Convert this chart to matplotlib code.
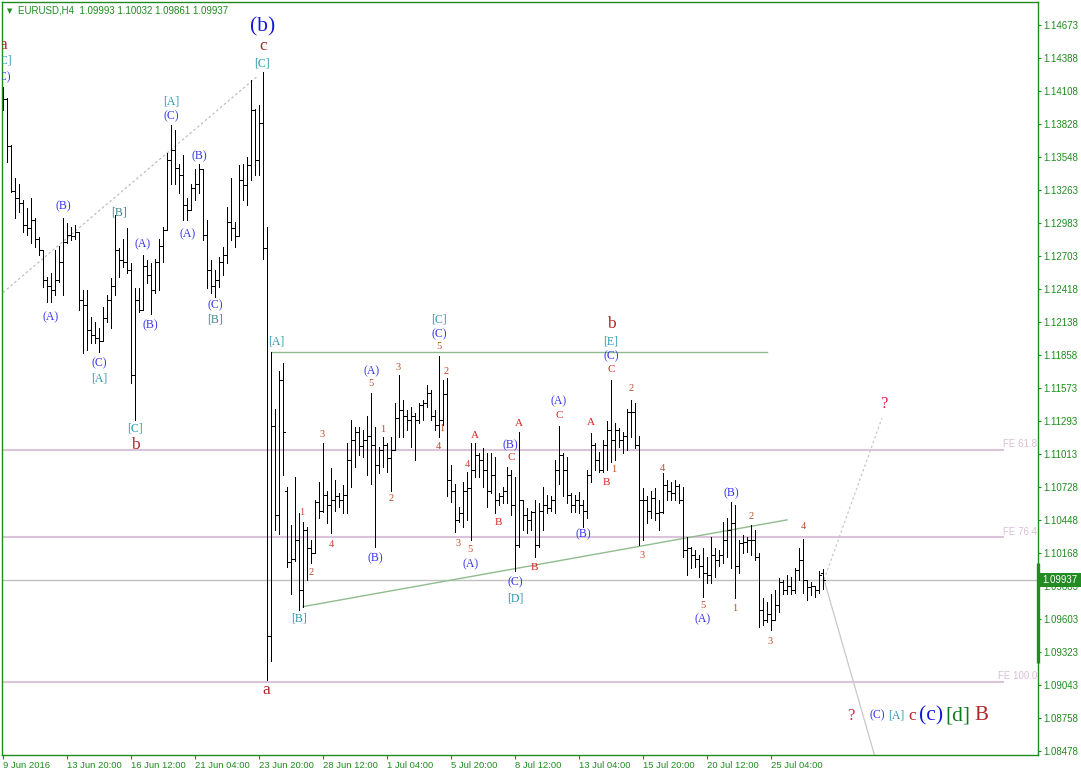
import numpy as np
import matplotlib
matplotlib.use('Agg')
import matplotlib.pyplot as plt
from matplotlib.patches import Rectangle
import matplotlib.transforms as mtransforms

plt.rcParams['font.family'] = ['Liberation Sans', 'DejaVu Sans']

# EURUSD H4 bars, 9 Jun - 27 Jul 2016
bar_open = [
    1.1412, 1.1404, 1.1364, 1.1326, 1.1320, 1.1315, 1.1297, 1.1294, 1.1301, 1.1285,
    1.1275, 1.1250, 1.1245, 1.1241, 1.1250, 1.1265, 1.1282, 1.1288, 1.1287, 1.1291,
    1.1233, 1.1228, 1.1207, 1.1203, 1.1200, 1.1198, 1.1217, 1.1233, 1.1245, 1.1275,
    1.1267, 1.1265, 1.1258, 1.1169, 1.1233, 1.1224, 1.1262, 1.1254, 1.1241, 1.1265,
    1.1279, 1.1292, 1.1352, 1.1361, 1.1345, 1.1339, 1.1314, 1.1309, 1.1328, 1.1332,
    1.1344, 1.1288, 1.1258, 1.1245, 1.1250, 1.1265, 1.1271, 1.1299, 1.1294, 1.1287,
    1.1335, 1.1331, 1.1348, 1.1395, 1.1352, 1.1384, 1.1277, 1.0946, 1.1125, 1.1049,
    1.1164, 1.1070, 1.1009, 1.1012, 1.1028, 1.0985, 1.1036, 1.1021, 1.1017, 1.1060,
    1.1053, 1.1066, 1.1058, 1.1062, 1.1065, 1.1062, 1.1066, 1.1096, 1.1113, 1.1120,
    1.1108, 1.1113, 1.1117, 1.1109, 1.1092, 1.1105, 1.1109, 1.1098, 1.1105, 1.1132,
    1.1139, 1.1134, 1.1130, 1.1134, 1.1130, 1.1143, 1.1145, 1.1153, 1.1134, 1.1126,
    1.1130, 1.1152, 1.1079, 1.1070, 1.1045, 1.1051, 1.1070, 1.1072, 1.1088, 1.1100,
    1.1096, 1.1088, 1.1070, 1.1083, 1.1062, 1.1065, 1.1070, 1.1083, 1.1058, 1.1024,
    1.1062, 1.1049, 1.1045, 1.1052, 1.1024, 1.1053, 1.1058, 1.1055, 1.1062, 1.1088,
    1.1100, 1.1088, 1.1066, 1.1058, 1.1062, 1.1058, 1.1053, 1.1083, 1.1109, 1.1096,
    1.1088, 1.1109, 1.1122, 1.1113, 1.1122, 1.1113, 1.1117, 1.1137, 1.1137, 1.1109,
    1.1062, 1.1062, 1.1053, 1.1064, 1.1051, 1.1052, 1.1075, 1.1070, 1.1068, 1.1074,
    1.1062, 1.1019, 1.1021, 1.1015, 1.1012, 1.1006, 1.1000, 1.0998, 1.1015, 1.1011,
    1.1015, 1.1028, 1.1036, 1.1042, 1.1006, 1.1025, 1.1026, 1.1028, 1.1028, 1.1013,
    1.0968, 1.0960, 1.0965, 1.0960, 1.0972, 1.0992, 1.0985, 1.0989, 1.0985, 1.1002,
    1.1011, 1.0994, 1.0988, 1.0989, 1.0985, 1.09993]
bar_high = [
    1.1414, 1.1405, 1.1365, 1.1337, 1.1332, 1.1318, 1.1311, 1.1320, 1.1303, 1.1286,
    1.1275, 1.1252, 1.1256, 1.1275, 1.1279, 1.1303, 1.1298, 1.1295, 1.1297, 1.1291,
    1.1241, 1.1241, 1.1218, 1.1214, 1.1209, 1.1227, 1.1237, 1.1251, 1.1305, 1.1277,
    1.1285, 1.1294, 1.1264, 1.1243, 1.1243, 1.1271, 1.1267, 1.1264, 1.1268, 1.1285,
    1.1295, 1.1358, 1.1382, 1.1378, 1.1349, 1.1356, 1.1320, 1.1332, 1.1344, 1.1349,
    1.1344, 1.1301, 1.1267, 1.1258, 1.1269, 1.1278, 1.1312, 1.1337, 1.1299, 1.1348,
    1.1349, 1.1355, 1.1420, 1.1396, 1.1399, 1.1427, 1.1295, 1.1188, 1.1140, 1.1172,
    1.1179, 1.1073, 1.1041, 1.1082, 1.1051, 1.1043, 1.1039, 1.1028, 1.1062, 1.1077,
    1.1111, 1.1070, 1.1089, 1.1079, 1.1068, 1.1075, 1.1111, 1.1130, 1.1124, 1.1124,
    1.1122, 1.1134, 1.1153, 1.1124, 1.1107, 1.1116, 1.1111, 1.1116, 1.1145, 1.1169,
    1.1147, 1.1139, 1.1141, 1.1136, 1.1145, 1.1147, 1.1160, 1.1156, 1.1139, 1.1185,
    1.1164, 1.1166, 1.1092, 1.1076, 1.1056, 1.1077, 1.1086, 1.1111, 1.1111, 1.1102,
    1.1106, 1.1102, 1.1102, 1.1099, 1.1068, 1.1073, 1.1090, 1.1088, 1.1082, 1.1120,
    1.1062, 1.1055, 1.1053, 1.1062, 1.1059, 1.1073, 1.1066, 1.1065, 1.1096, 1.1125,
    1.1102, 1.1099, 1.1068, 1.1066, 1.1069, 1.1062, 1.1088, 1.1119, 1.1111, 1.1103,
    1.1113, 1.1129, 1.1164, 1.1128, 1.1123, 1.1120, 1.1140, 1.1147, 1.1145, 1.1117,
    1.1072, 1.1065, 1.1070, 1.1072, 1.1062, 1.1085, 1.1079, 1.1077, 1.1079, 1.1076,
    1.1073, 1.1030, 1.1022, 1.1019, 1.1015, 1.1021, 1.1013, 1.1030, 1.1021, 1.1019,
    1.1043, 1.1047, 1.1060, 1.1058, 1.1028, 1.1032, 1.1030, 1.1041, 1.1036, 1.1017,
    1.0978, 1.0975, 1.0982, 1.0985, 1.0995, 1.0994, 1.0998, 1.0996, 1.1004, 1.1021,
    1.1029, 1.0994, 1.0992, 1.0989, 1.1001, 1.10032]
bar_low = [
    1.1395, 1.1350, 1.1325, 1.1303, 1.1308, 1.1291, 1.1288, 1.1281, 1.1278, 1.1271,
    1.1244, 1.1231, 1.1231, 1.1237, 1.1248, 1.1237, 1.1281, 1.1284, 1.1285, 1.1224,
    1.1187, 1.1190, 1.1196, 1.1196, 1.1188, 1.1198, 1.1214, 1.1209, 1.1237, 1.1252,
    1.1261, 1.1256, 1.1162, 1.1130, 1.1222, 1.1224, 1.1247, 1.1221, 1.1239, 1.1241,
    1.1265, 1.1292, 1.1332, 1.1332, 1.1324, 1.1301, 1.1301, 1.1309, 1.1318, 1.1324,
    1.1284, 1.1243, 1.1239, 1.1235, 1.1244, 1.1254, 1.1264, 1.1284, 1.1278, 1.1287,
    1.1318, 1.1314, 1.1335, 1.1339, 1.1339, 1.1268, 1.0908, 1.0925, 1.1036, 1.1033,
    1.1083, 1.1005, 1.0982, 1.1010, 1.0968, 1.0971, 1.0994, 1.1008, 1.1017, 1.1047,
    1.1052, 1.1042, 1.1034, 1.1053, 1.1056, 1.1051, 1.1051, 1.1073, 1.1090, 1.1100,
    1.1099, 1.1083, 1.1076, 1.1022, 1.1085, 1.1090, 1.1086, 1.1070, 1.1105, 1.1116,
    1.1116, 1.1122, 1.1107, 1.1096, 1.1128, 1.1130, 1.1141, 1.1130, 1.1122, 1.1116,
    1.1126, 1.1065, 1.1060, 1.1035, 1.1043, 1.1039, 1.1045, 1.1028, 1.1082, 1.1082,
    1.1073, 1.1056, 1.1068, 1.1051, 1.1058, 1.1059, 1.1059, 1.1049, 1.1001, 1.1022,
    1.1036, 1.1034, 1.1036, 1.1013, 1.1022, 1.1036, 1.1051, 1.1053, 1.1051, 1.1076,
    1.1065, 1.1059, 1.1052, 1.1052, 1.1051, 1.1039, 1.1047, 1.1077, 1.1088, 1.1086,
    1.1086, 1.1088, 1.1094, 1.1096, 1.1107, 1.1102, 1.1105, 1.1116, 1.1106, 1.1024,
    1.1028, 1.1042, 1.1047, 1.1045, 1.1036, 1.1051, 1.1062, 1.1062, 1.1062, 1.1059,
    1.1013, 1.0998, 1.1004, 1.1005, 1.0996, 1.0979, 1.0991, 1.0991, 1.0996, 1.1006,
    1.1008, 1.1013, 1.1004, 1.0978, 1.1000, 1.1017, 1.1018, 1.1015, 1.1011, 1.0954,
    1.0955, 1.0958, 1.0951, 1.0960, 1.0966, 1.0982, 1.0982, 1.0982, 1.0983, 1.0994,
    1.0983, 1.0977, 1.0981, 1.0979, 1.0983, 1.09861]
bar_close = [
    1.1404, 1.1364, 1.1326, 1.1320, 1.1315, 1.1297, 1.1294, 1.1301, 1.1285, 1.1275,
    1.1250, 1.1245, 1.1241, 1.1250, 1.1265, 1.1282, 1.1288, 1.1287, 1.1291, 1.1233,
    1.1228, 1.1207, 1.1203, 1.1200, 1.1198, 1.1217, 1.1233, 1.1245, 1.1275, 1.1267,
    1.1265, 1.1258, 1.1169, 1.1233, 1.1224, 1.1262, 1.1254, 1.1241, 1.1265, 1.1279,
    1.1292, 1.1352, 1.1361, 1.1345, 1.1339, 1.1314, 1.1309, 1.1328, 1.1332, 1.1344,
    1.1288, 1.1258, 1.1245, 1.1250, 1.1265, 1.1271, 1.1299, 1.1294, 1.1287, 1.1335,
    1.1331, 1.1348, 1.1395, 1.1352, 1.1384, 1.1277, 1.0946, 1.1125, 1.1049, 1.1164,
    1.1120, 1.1009, 1.1012, 1.1028, 1.0985, 1.1036, 1.1021, 1.1017, 1.1060, 1.1053,
    1.1066, 1.1058, 1.1062, 1.1065, 1.1062, 1.1066, 1.1096, 1.1113, 1.1120, 1.1108,
    1.1113, 1.1117, 1.1109, 1.1092, 1.1105, 1.1109, 1.1098, 1.1105, 1.1132, 1.1139,
    1.1134, 1.1130, 1.1134, 1.1130, 1.1143, 1.1145, 1.1153, 1.1134, 1.1126, 1.1130,
    1.1152, 1.1079, 1.1070, 1.1045, 1.1051, 1.1070, 1.1072, 1.1088, 1.1100, 1.1096,
    1.1088, 1.1070, 1.1083, 1.1062, 1.1065, 1.1070, 1.1083, 1.1058, 1.1024, 1.1062,
    1.1049, 1.1045, 1.1052, 1.1024, 1.1053, 1.1058, 1.1055, 1.1062, 1.1088, 1.1100,
    1.1088, 1.1066, 1.1058, 1.1062, 1.1058, 1.1053, 1.1083, 1.1109, 1.1096, 1.1088,
    1.1109, 1.1122, 1.1113, 1.1122, 1.1113, 1.1117, 1.1137, 1.1137, 1.1109, 1.1062,
    1.1062, 1.1053, 1.1064, 1.1051, 1.1052, 1.1075, 1.1070, 1.1068, 1.1074, 1.1062,
    1.1019, 1.1021, 1.1015, 1.1012, 1.1006, 1.1000, 1.0998, 1.1015, 1.1011, 1.1015,
    1.1028, 1.1036, 1.1042, 1.1006, 1.1025, 1.1026, 1.1028, 1.1028, 1.1013, 1.0968,
    1.0960, 1.0965, 1.0960, 1.0972, 1.0992, 1.0985, 1.0989, 1.0985, 1.1002, 1.1011,
    1.0994, 1.0988, 1.0989, 1.0985, 1.0998, 1.09937]

# time axis labels (every 16th bar)
date_bars = [0, 16, 32, 48, 64, 80, 96, 112, 128, 144, 160, 176, 192]
date_labels = ['9 Jun 2016', '13 Jun 20:00', '16 Jun 12:00', '21 Jun 04:00',
               '23 Jun 20:00', '28 Jun 12:00', '1 Jul 04:00', '5 Jul 20:00',
               '8 Jul 12:00', '13 Jul 04:00', '15 Jul 20:00', '20 Jul 12:00',
               '25 Jul 04:00']
price_ticks = [1.14673, 1.14388, 1.14108, 1.13828, 1.13548, 1.13263, 1.12983,
               1.12703, 1.12418, 1.12138, 1.11858, 1.11573, 1.11293, 1.11013,
               1.10728, 1.10448, 1.10168, 1.09883, 1.09603, 1.09323, 1.09043,
               1.08758, 1.08478]

last_price = 1.09937
fe_levels = [1.1105, 1.1030, 1.0907]
fe_names = ['FE 61.8', 'FE 76.4', 'FE 100.0']
triangle_top = 1.1188
trend_line = ([75, 196], [1.0971, 1.1045])
channel_dash = ([0, 63.75], [1.1239, 1.1424])
proj_up = ([205.25, 219.75], [1.0994, 1.1132])
proj_down = ([205.25, 218.4], [1.0994, 1.0838])

# wave labels: bar position, price, text, kind
wave_labels = [
    (65.0, 1.1466, '(b)', 'big'), (65.0, 1.1449, 'c', 'deg'), (64.75, 1.1434, '[C]', 'br'),
    (0.1, 1.1450, 'a', 'deg'), (0.25, 1.1437, '[C]', 'br'), (0.0, 1.1423, '(C)', 'par'),
    (42, 1.1402, '[A]', 'br'), (42, 1.1389, '(C)', 'par'), (49, 1.1355, '(B)', 'par'),
    (15, 1.1313, '(B)', 'par'), (29, 1.1307, '[B]', 'brg'), (35, 1.1280, '(A)', 'par'),
    (46.25, 1.1289, '(A)', 'par'), (12, 1.1218, '(A)', 'par'), (36.75, 1.1211, '(B)', 'par'),
    (53, 1.1228, '(C)', 'par'), (53, 1.1216, '[B]', 'brg'), (24, 1.1179, '(C)', 'par'),
    (24, 1.1166, '[A]', 'br'), (33, 1.1123, '[C]', 'br'), (33, 1.1109, 'b', 'deg'),
    (68.25, 1.1197, '[A]', 'br'), (65.75, 1.0900, 'a', 'deg'), (74, 1.0961, '[B]', 'br'),
    (74.75, 1.1051, '1', 'num'), (77, 1.1000, '2', 'num'), (79.75, 1.1118, '3', 'num'),
    (82, 1.1024, '4', 'num'), (92.25, 1.1172, '(A)', 'par'), (92, 1.1161, '5', 'num'),
    (93, 1.1012, '(B)', 'par'), (95, 1.1122, '1', 'num'), (97, 1.1063, '2', 'num'),
    (98.75, 1.1175, '3', 'num'), (109, 1.1216, '[C]', 'br'), (109, 1.1203, '(C)', 'par'),
    (109, 1.1193, '5', 'num'), (110.75, 1.1172, '2', 'num'), (109.75, 1.1123, '1', 'num'),
    (108.75, 1.1108, '4', 'num'), (116, 1.1092, '4', 'num'), (118, 1.1117, 'A', 'abc'),
    (113.75, 1.1025, '3', 'num'), (116.75, 1.1020, '5', 'num'), (117, 1.1007, '(A)', 'par'),
    (123.75, 1.1043, 'B', 'abc'), (126.75, 1.1109, '(B)', 'par'), (127, 1.1098, 'C', 'abc'),
    (129, 1.1127, 'A', 'abc'), (128, 1.0992, '(C)', 'par'), (128, 1.0978, '[D]', 'br'),
    (132.75, 1.1004, 'B', 'abc'), (139, 1.1146, '(A)', 'par'), (139, 1.1134, 'C', 'abc'),
    (145, 1.1033, '(B)', 'par'), (147, 1.1128, 'A', 'abc'), (150.75, 1.1077, 'B', 'abc'),
    (152.75, 1.1088, '1', 'num'), (152, 1.1212, 'b', 'deg'), (152, 1.1197, '[E]', 'br'),
    (152, 1.1185, '(C)', 'par'), (152, 1.1173, 'C', 'abc'), (157, 1.1157, '2', 'num'),
    (159.75, 1.1015, '3', 'num'), (164.75, 1.1089, '4', 'num'), (175, 1.0972, '5', 'num'),
    (175, 1.0960, '(A)', 'par'), (182, 1.1068, '(B)', 'par'), (183, 1.0969, '1', 'num'),
    (187, 1.1048, '2', 'num'), (191.75, 1.0941, '3', 'num'), (200, 1.1039, '4', 'num'),
    (220.25, 1.1144, '?', 'q'), (212, 1.0878, '?', 'q'),
    (218.5, 1.0878, '(C)', 'par'), (223.25, 1.0878, '[A]', 'br'), (227.25, 1.0878, 'c', 'deg'),
    (232, 1.0878, '(c)', 'big'), (238.75, 1.0878, '[d]', 'bigg'), (244.5, 1.0878, 'B', 'bigr'),
]
label_style = {
    'big': ('#1414E0', 15.5), 'deg': ('#B0262A', 12.5), 'br': ('#2A98AC', 8.5),
    'brg': ('#3F8486', 8.5), 'par': ('#3A35F0', 8.5), 'abc': ('#DD2222', 8),
    'num': ('#C04A28', 7.5), 'q': ('#E0204A', 12), 'bigg': ('#0E7A18', 15.5),
    'bigr': ('#B0262A', 15),
}

GREEN = '#1E8C1E'
W, H = 1081, 775
fig = plt.figure(figsize=(W / 100, H / 100), dpi=100)
ax = fig.add_axes([2 / W, 20 / H, 1036 / W, 753 / H])
ax.set_xlim(-0.25, 258.75)
ax.set_ylim(1.08444, 1.14869)

# reference lines
for lvl, name in zip(fe_levels, fe_names):
    ax.plot([-1, 250], [lvl, lvl], color='#DCC3DC', lw=1.5, zorder=1)
    ax.text(258.5, lvl + 0.00002, name, ha='right', va='bottom', fontsize=7,
            color='#D8BFD8', zorder=1)
ax.axhline(last_price, color='#C0C0C0', lw=1, zorder=1)
ax.plot([67, 191], [triangle_top, triangle_top], color='#8FBC8F', lw=1, zorder=1)
ax.plot(*trend_line, color='#8FBC8F', lw=1, zorder=1)
ax.plot(*channel_dash, color='#BEBEBE', lw=0.9, ls=(0, (2, 2)), zorder=1)
ax.plot(*proj_up, color='#C8C8C8', lw=0.9, ls=(0, (2, 2)), zorder=1)
ax.plot(*proj_down, color='#C8C8C8', lw=0.9, zorder=1)

# OHLC bars
x = np.arange(len(bar_close))
ax.vlines(x, bar_low, bar_high, color='black', lw=0.72, antialiased=False, zorder=2)
ax.hlines(bar_open, x - 0.4, x, color='black', lw=0.72, antialiased=False, zorder=2)
ax.hlines(bar_close, x, x + 0.4, color='black', lw=0.72, antialiased=False, zorder=2)

for bx, by, txt, kind in wave_labels:
    col, size = label_style[kind]
    ax.text(bx, by, txt, color=col, fontsize=size, family='Liberation Serif',
            ha='center', va='center', clip_on=True, zorder=4)

# axes styling
for sp in ax.spines.values():
    sp.set_color(GREEN)
    sp.set_linewidth(1)
ax.set_xticks(date_bars)
ax.set_xticklabels(date_labels, ha='left')
ax.yaxis.tick_right()
ax.set_yticks(price_ticks)
ax.set_yticklabels(['%.5f' % p for p in price_ticks])
ax.tick_params(axis='x', direction='out', length=3, width=0.8, colors=GREEN,
               labelsize=6.8, pad=1.5)
ax.tick_params(axis='y', direction='out', length=2.5, width=0.8, colors=GREEN,
               labelsize=7, pad=1.5)

# current price tag and marker on the price scale
blend = mtransforms.blended_transform_factory(ax.transAxes, ax.transData)
ax.add_patch(Rectangle((1.0, last_price - 0.0006), 44 / 1036, 0.0012, transform=blend,
                       facecolor='#228B22', edgecolor='none', clip_on=False, zorder=5))
ax.text(1.0 + 4 / 1036, last_price, '%.5f' % last_price, transform=blend, color='white',
        fontsize=7, va='center', ha='left', clip_on=False, zorder=6)
ax.plot([1.0, 1.0], [1.1008, 1.0923], transform=blend, color='#228B22', lw=2.4,
        clip_on=False, zorder=5, solid_capstyle='butt')

# chart header
fig.text(7 / W, 1 - 11 / H, '\u25bc', color=GREEN, fontsize=5, va='center',
         family='DejaVu Sans')
fig.text(18 / W, 1 - 10.5 / H, 'EURUSD,H4  1.09993 1.10032 1.09861 1.09937',
         color=GREEN, fontsize=7, va='center')

fig.savefig('out.png', dpi=100)
